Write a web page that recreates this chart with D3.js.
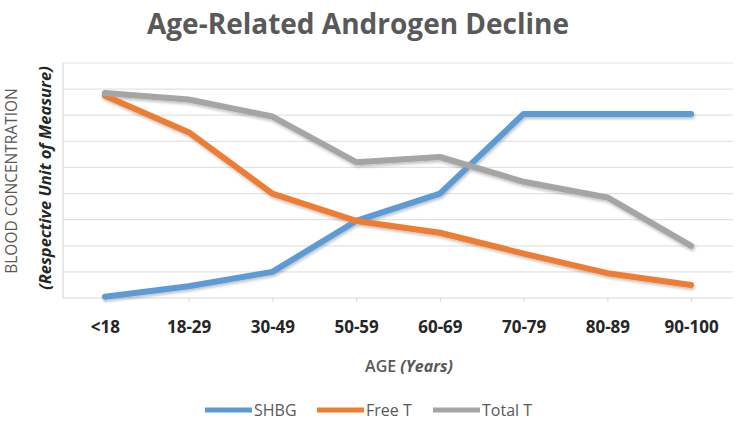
<!DOCTYPE html>
<html><head><meta charset="utf-8">
<script src="https://cdn.jsdelivr.net/npm/d3@7"></script>
<style>body{margin:0;background:#fff}svg{display:block}</style>
</head><body>
<svg id="c" width="738" height="431"></svg>
<script>
const categories = ["<18","18-29","30-49","50-59","60-69","70-79","80-89","90-100"];
const shbg   = [0.05, 0.45, 1.0, 2.95, 4.0, 7.05, 7.05, 7.05];
const freeT  = [7.75, 6.35, 4.0, 2.95, 2.5, 1.7, 0.95, 0.5];
const totalT = [7.85, 7.6, 6.95, 5.2, 5.4, 4.45, 3.85, 2.0];
const seriesNames = ["SHBG","Free T","Total T"];
const seriesColors = ["#5b9bd5","#ed7d31","#a5a5a5"];
const yTicks = [0,1,2,3,4,5,6,7,8,9];

const svg = d3.select("#c");
const m = {l:63, r:5, t:63, b:133};
const W = 738, H = 431;
const FONT = "'Open Sans', sans-serif";
const x = d3.scalePoint().domain(categories).range([m.l, W - m.r]).padding(0.5);
const y = d3.scaleLinear().domain([0, 9]).range([H - m.b, m.t]);

const defs = svg.append("defs");
const f = defs.append("filter").attr("id","sh").attr("x","-10%").attr("y","-20%").attr("width","120%").attr("height","140%");
f.append("feGaussianBlur").attr("in","SourceAlpha").attr("stdDeviation",1.5).attr("result","b");
f.append("feOffset").attr("in","b").attr("dx",1).attr("dy",2).attr("result","o");
f.append("feComponentTransfer").attr("in","o").attr("result","o2").append("feFuncA").attr("type","linear").attr("slope",0.25);
const mg = f.append("feMerge");
mg.append("feMergeNode").attr("in","o2");
mg.append("feMergeNode").attr("in","SourceGraphic");

// gridlines
svg.append("g").selectAll("line").data(yTicks.slice(1)).join("line")
  .attr("x1", m.l).attr("x2", W - m.r)
  .attr("y1", d => y(d)).attr("y2", d => y(d))
  .attr("stroke", "#e3e3e3").attr("stroke-width", 1.2);

// y axis line
svg.append("line").attr("x1", m.l).attr("x2", m.l).attr("y1", y(9)).attr("y2", y(0))
  .attr("stroke","#d9d9d9").attr("stroke-width",1.2);

// x axis
const xAxis = d3.axisBottom(x).tickSize(4).tickFormat(d => d);
const gx = svg.append("g").attr("transform", `translate(0,${y(0)})`).call(xAxis);
gx.select(".domain").attr("stroke","#d9d9d9").attr("stroke-width",1.2).attr("d", `M${m.l},0H${W - m.r}`);
gx.selectAll(".tick line").attr("stroke","#d9d9d9");
gx.selectAll(".tick text").attr("y", 35).attr("dy", null)
  .attr("font-family", FONT).attr("font-weight","bold")
  .attr("font-size", 17).attr("fill","#262626");

// lines
const data = [shbg, freeT, totalT];
const line = d3.line().x((d,i) => x(categories[i])).y(d => y(d));
svg.append("g").attr("filter","url(#sh)").selectAll("path").data(data).join("path")
  .attr("d", d => line(d)).attr("fill","none")
  .attr("stroke", (d,i) => seriesColors[i]).attr("stroke-width", 6)
  .attr("stroke-linecap","round").attr("stroke-linejoin","round");

// title
svg.append("text").attr("x", 358).attr("y", 34).attr("text-anchor","middle")
  .attr("font-family", FONT).attr("font-weight","bold")
  .attr("font-size", 28).attr("fill","#595959").text("Age-Related Androgen Decline");

// y labels
svg.append("text").attr("transform","translate(17,181) rotate(-90)").attr("text-anchor","middle")
  .attr("font-family", FONT).attr("font-size",15.5).attr("fill","#595959")
  .text("BLOOD CONCENTRATION");
svg.append("text").attr("transform","translate(51,178) rotate(-90)").attr("text-anchor","middle")
  .attr("font-family", FONT).attr("font-size",16.5).attr("font-weight","bold")
  .attr("font-style","italic").attr("fill","#262626")
  .text("(Respective Unit of Measure)");

// x title
const xt = svg.append("text").attr("x", 409).attr("y", 372).attr("text-anchor","middle")
  .attr("font-family", FONT).attr("font-size",16).attr("fill","#595959");
xt.append("tspan").attr("font-weight",600).text("AGE ");
xt.append("tspan").attr("font-style","italic").attr("font-weight","bold").text("(Years)");

// legend
const legX = [205, 317, 433];
const lg = svg.append("g").selectAll("g").data(seriesNames).join("g")
  .attr("transform", (d,i) => `translate(${legX[i]},410)`);
lg.append("line").attr("x1",0).attr("x2",47).attr("y1",0).attr("y2",0)
  .attr("stroke",(d,i)=>seriesColors[i]).attr("stroke-width",5);
lg.append("text").attr("x",49).attr("y",6).attr("font-family", FONT)
  .attr("font-size",16).attr("fill","#595959").text(d => d);
</script>
</body></html>
